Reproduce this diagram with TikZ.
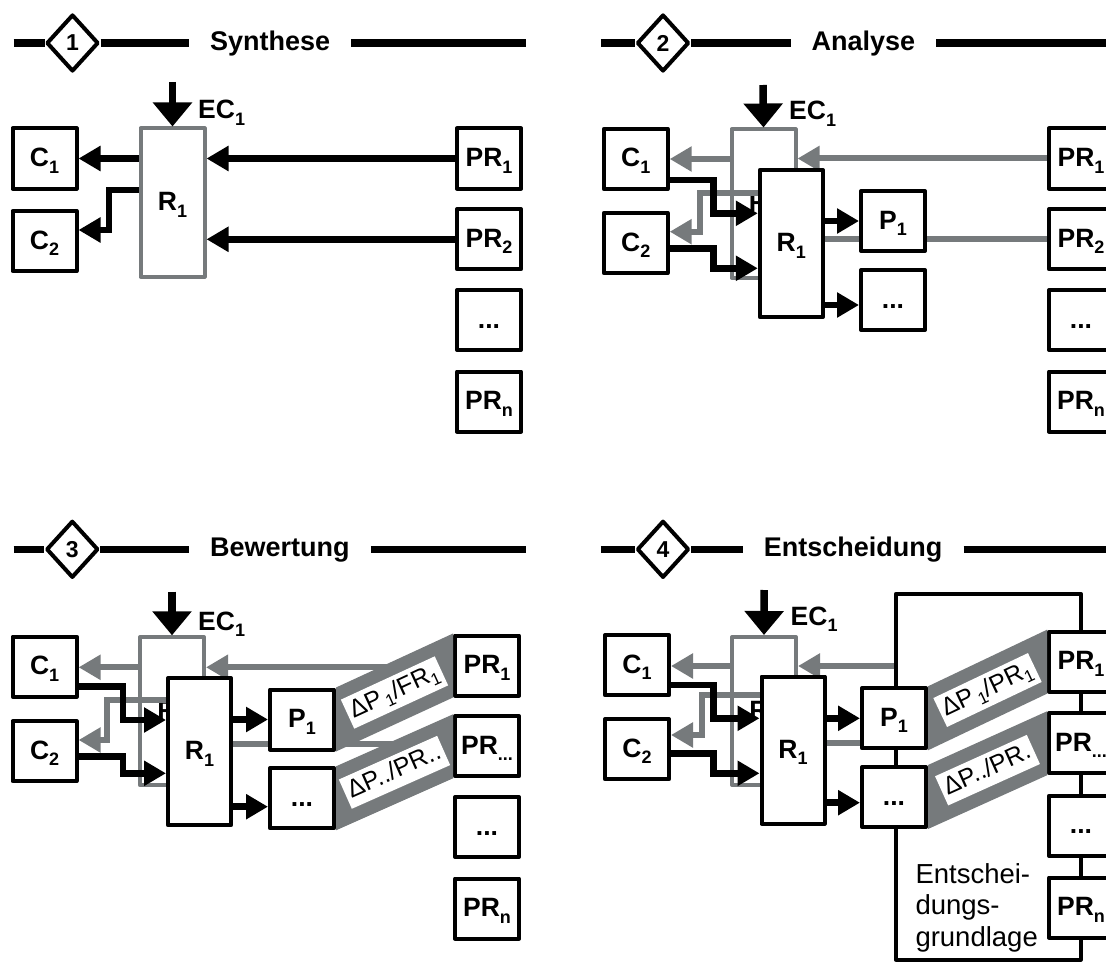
\documentclass[tikz,border=0pt]{standalone}
\usepackage{fontspec}
\setmainfont{Liberation Sans}
\usetikzlibrary{arrows.meta,shapes.geometric}
\pgfdeclarelayer{bg}
\pgfsetlayers{bg,main}
\definecolor{greyc}{RGB}{118,122,124}
\newcommand{\lbl}{\bfseries\fontsize{26.5}{26.5}\selectfont}
\newcommand{\mysub}[1]{\raisebox{-6.5pt}{\fontsize{18}{18}\selectfont #1}}
\newcommand{\mysubs}[1]{\raisebox{-5pt}{\fontsize{17}{17}\selectfont #1}}
\tikzset{
  bx/.style={draw, line width=4pt, fill=white, minimum width=64pt, minimum height=60pt, inner sep=0pt, font=\lbl, text height=18pt, text depth=2pt, line join=round},
  gbx/.style={draw=greyc, line width=4pt, fill=white, minimum width=64pt, minimum height=148pt, inner sep=0pt, font=\lbl, text height=18pt, text depth=2pt, line join=round},
  rbx/.style={draw, line width=4pt, fill=white, minimum width=63pt, minimum height=147pt, inner sep=0pt, font=\lbl, text height=18pt, text depth=2pt, line join=round},
  barrow/.style={draw=black, line width=6.5pt, -{Triangle[length=22pt,width=24pt]}},
  garrow/.style={draw=greyc, line width=6pt, -{Triangle[length=22pt,width=24pt]}},
  gl/.style={draw=greyc, line width=6pt},
  ecarrow/.style={draw=black, line width=7.5pt, -{Triangle[length=24pt,width=38pt]}},
  hdr/.style={line width=7.5pt},
  dia/.style={diamond, draw, line width=4pt, fill=white, minimum width=52pt, minimum height=57pt, inner sep=0pt, line join=round, font=\bfseries\fontsize{23}{23}\selectfont},
  htxt/.style={inner xsep=21pt, inner ysep=0pt, font=\bfseries\fontsize{27}{27}\selectfont, anchor=base west},
  ectxt/.style={inner sep=0pt, font=\lbl, anchor=base west},
  band/.style={fill=greyc},
  blbl/.style={fill=white, inner xsep=4pt, inner ysep=0pt, minimum height=32pt, font=\fontsize{25}{25}\selectfont, sloped, midway, text height=18pt, text depth=5pt},
  bigbox/.style={draw, line width=4pt, inner sep=0pt, line join=round},
  dtxt/.style={font=\fontsize{27.5}{31.7}\selectfont, align=left, anchor=north west, inner sep=0pt}
}
\begin{document}
\begin{tikzpicture}[x=1pt,y=-1pt]
\useasboundingbox (0,0) rectangle (1106,963);
\clip (0,0) rectangle (1106,963);

% ================= Panel 1 =================
\begin{scope}
  \coordinate (aL) at (13.6,43);
  \coordinate (aR) at (525.7,43);
  \node[dia] (aD) at (72.5,43) {1};
  \node[htxt] (aT) at (189,51) {Synthese};
  \draw[hdr] (aL) -- (aD.west);
  \draw[hdr] (aD.east) -- (aT.west |- aL);
  \draw[hdr] (aT.east |- aL) -- (aR);
  \node[gbx] (aG) at (172.5,202.5) {R\mysub{1}};
  \node[bx] (aC1) at (44.5,158.5) {C\mysub{1}};
  \node[bx] (aC2) at (44.5,241) {C\mysub{2}};
  \node[bx] (aP1) at (489,158.5) {PR\mysub{1}};
  \node[bx] (aP2) at (489,239.3) {PR\mysub{2}};
  \node[bx] (aP3) at (489,320) {...};
  \node[bx] (aP4) at (489,401.5) {PR\mysub{n}};
  \draw[barrow] (aG.west |- aC1.east) -- (aC1.east);
  \draw[barrow] (aG.west |- 0,190) -- (109,190) -- (109,230) -- (aC2.east |- 0,230);
  \draw[barrow] (aP1.west) -- (aG.east |- aP1.west);
  \draw[barrow] (aP2.west) -- (aG.east |- aP2.west);
  \coordinate (aE) at (172.5,82);
  \draw[ecarrow] (aE) -- (aG.north);
  \node[ectxt] (aEC) at (198,119) {EC\mysub{1}};
\end{scope}

% ================= Panel 2 =================
\begin{scope}[shift={(591,0)}]
  \coordinate (bL) at (9.8,43);
  \coordinate (bR) at (520,43);
  \node[dia] (bD) at (72,43) {2};
  \node[htxt] (bT) at (199.5,51) {Analyse};
  \draw[hdr] (bL) -- (bD.west);
  \draw[hdr] (bD.east) -- (bT.west |- bL);
  \draw[hdr] (bT.east |- bL) -- (bR);
  \node[gbx] (bG) at (172.5,203.5) {R\mysub{1}};
  \node[bx] (bC1) at (44.7,159) {C\mysub{1}};
  \node[bx] (bC2) at (44.7,243) {C\mysub{2}};
  \node[rbx] (bR1) at (200.3,243.5) {R\mysub{1}};
  \node[bx] (bQ1) at (302,221) {P\mysub{1}};
  \node[bx] (bQ2) at (302,300) {...};
  \node[bx] (bP1) at (490,158.5) {PR\mysub{1}};
  \node[bx] (bP2) at (490,239.3) {PR\mysub{2}};
  \node[bx] (bP3) at (490,320) {...};
  \node[bx] (bP4) at (490,401.5) {PR\mysub{n}};
  \begin{pgfonlayer}{bg}
    \draw[gl] (bR1.east |- bP2.west) -- (bP2.west);
    \draw[garrow] (bP1.west) -- (bG.east |- bP1.west);
  \end{pgfonlayer}
  \draw[garrow] (bG.west |- bC1.east) -- (bC1.east);
  \draw[garrow] (bR1.west |- 0,193.3) -- (109,193.3) -- (109,231.7) -- (bC2.east |- 0,231.7);
  \draw[barrow] (bC1.east |- 0,180) -- (122.6,180) -- (122.6,213.3) -- (bR1.west |- 0,213.3);
  \draw[barrow] (bC2.east |- 0,248.3) -- (122.6,248.3) -- (122.6,268.3) -- (bR1.west |- 0,268.3);
  \draw[barrow] (bR1.east |- bQ1.west) -- (bQ1.west);
  \draw[barrow] (bR1.east |- 0,305) -- (bQ2.west |- 0,305);
  \coordinate (bE) at (172,85);
  \draw[ecarrow] (bE) -- (bG.north);
  \node[ectxt] (bEC) at (198,120) {EC\mysub{1}};
\end{scope}

% ================= Panel 3 =================
\begin{scope}[shift={(0,509)}]
  \coordinate (cL) at (13.6,40.3);
  \coordinate (cR) at (525.7,40.3);
  \node[dia] (cD) at (72.3,40.3) {3};
  \node[htxt] (cT) at (189,47.7) {Bewertung};
  \draw[hdr] (cL) -- (cD.west);
  \draw[hdr] (cD.east) -- (cT.west |- cL);
  \draw[hdr] (cT.east |- cL) -- (cR);
  \node[gbx] (cG) at (172,202.3) {R\mysub{1}};
  \node[bx] (cC1) at (44.6,157.7) {C\mysub{1}};
  \node[bx] (cC2) at (44.6,242.2) {C\mysub{2}};
  \node[rbx] (cR1) at (199.5,242.7) {R\mysub{1}};
  \node[bx] (cQ1) at (302,210.5) {P\mysub{1}};
  \node[bx] (cQ2) at (302,289.3) {...};
  \node[bx] (cP1) at (487,156.5) {PR\mysub{1}};
  \node[bx] (cP2) at (487,237.3) {PR\mysub{...}};
  \node[bx] (cP3) at (487,318) {...};
  \node[bx] (cP4) at (487,399.5) {PR\mysub{n}};
  \begin{pgfonlayer}{bg}
    \draw[garrow] (cP1.west |- 0,158.3) -- (cG.east |- 0,158.3);
    \draw[gl] (cR1.east |- 0,235) -- (cP2.west |- 0,235);
  \end{pgfonlayer}
  \draw[garrow] (cG.west |- 0,158.3) -- (cC1.east |- 0,158.3);
  \draw[garrow] (cR1.west |- 0,191) -- (107,191) -- (107,231) -- (cC2.east |- 0,231);
  \draw[barrow] (cC1.east |- 0,177.7) -- (123,177.7) -- (123,211) -- (cR1.west |- 0,211);
  \draw[barrow] (cC2.east |- 0,247.7) -- (123,247.7) -- (123,264.3) -- (cR1.west |- 0,264.3);
  \draw[barrow] (cR1.east |- cQ1.west) -- (cQ1.west);
  \draw[barrow] (cR1.east |- 0,297.7) -- (cQ2.west |- 0,297.7);
  \fill[band] (cQ1.north east) -- (cP1.north west) -- (cP1.south west) -- (cQ1.south east) -- cycle;
  \fill[band] (cQ2.north east) -- (cP2.north west) -- (cP2.south west) -- (cQ2.south east) -- cycle;
  \path (cQ1.east) -- (cP1.west) node[blbl] (cL1) {ΔP\mysubs{\,1}/FR\mysubs{1}};
  \path (cQ2.east) -- (cP2.west) node[blbl] (cL2) {ΔP../PR..};
  \coordinate (cE) at (172,82.7);
  \draw[ecarrow] (cE) -- (cG.north);
  \node[ectxt] (cEC) at (198,121) {EC\mysub{1}};
\end{scope}

% ================= Panel 4 =================
\begin{scope}[shift={(591,509)}]
  \coordinate (dL) at (9.8,40.3);
  \coordinate (dR) at (520,40.3);
  \node[dia] (dD) at (72,40.3) {4};
  \node[htxt] (dT) at (151.6,47.7) {Entscheidung};
  \draw[hdr] (dL) -- (dD.west);
  \draw[hdr] (dD.east) -- (dT.west |- dL);
  \draw[hdr] (dT.east |- dL) -- (dR);
  \begin{pgfonlayer}{bg}
    \node[bigbox, minimum width=184.8pt, minimum height=366pt] (dBig) at (397.4,267.7) {};
  \end{pgfonlayer}
  \node[gbx] (dG) at (173,202) {R\mysub{1}};
  \node[bx] (dC1) at (46,156.3) {C\mysub{1}};
  \node[bx] (dC2) at (46,240.2) {C\mysub{2}};
  \node[rbx] (dR1) at (202,241) {R\mysub{1}};
  \node[bx] (dQ1) at (303,209.3) {P\mysub{1}};
  \node[bx] (dQ2) at (303,288) {...};
  \node[bx] (dP1) at (490,152.7) {PR\mysub{1}};
  \node[bx] (dP2) at (490,234.3) {PR\mysub{...}};
  \node[bx] (dP3) at (490,316.8) {...};
  \node[bx] (dP4) at (490,398.5) {PR\mysub{n}};
  \begin{pgfonlayer}{bg}
    \draw[garrow] (dBig.west |- 0,157) -- (dG.east |- 0,157);
    \draw[gl] (dR1.east |- 0,234.3) -- (dQ1.west |- 0,234.3);
  \end{pgfonlayer}
  \draw[garrow] (dG.west |- 0,157) -- (dC1.east |- 0,157);
  \draw[garrow] (dR1.west |- 0,186) -- (110.6,186) -- (110.6,226) -- (dC2.east |- 0,226);
  \draw[barrow] (dC1.east |- 0,176) -- (122.6,176) -- (122.6,209.3) -- (dR1.west |- 0,209.3);
  \draw[barrow] (dC2.east |- 0,244.3) -- (122.6,244.3) -- (122.6,264.3) -- (dR1.west |- 0,264.3);
  \draw[barrow] (dR1.east |- dQ1.west) -- (dQ1.west);
  \draw[barrow] (dR1.east |- 0,293.7) -- (dQ2.west |- 0,293.7);
  \fill[band] (dQ1.north east) -- (dP1.north west) -- (dP1.south west) -- (dQ1.south east) -- cycle;
  \fill[band] (dQ2.north east) -- (dP2.north west) -- (dP2.south west) -- (dQ2.south east) -- cycle;
  \path (dQ1.east) -- (dP1.west) node[blbl] (dL1) {ΔP\mysubs{\,1}/PR\mysubs{1}};
  \path (dQ2.east) -- (dP2.west) node[blbl] (dL2) {ΔP../PR.};
  \node[dtxt] (dTxt) at (324.3,354) {Entschei-\\dungs-\\grundlage};
  \coordinate (dE) at (173.2,81);
  \draw[ecarrow] (dE) -- (dG.north);
  \node[ectxt] (dEC) at (199.5,116) {EC\mysub{1}};
\end{scope}
\end{tikzpicture}
\end{document}
